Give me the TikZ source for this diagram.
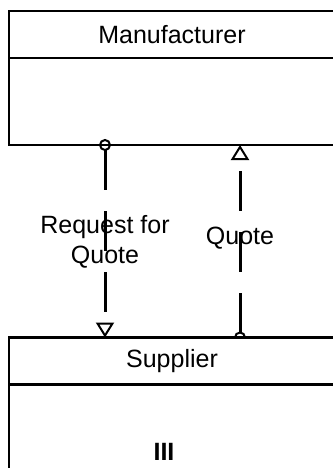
\documentclass[tikz,border=0pt]{standalone}
\usepackage{fontspec}
\setmainfont{Liberation Sans}
\usetikzlibrary{arrows.meta,positioning,backgrounds}
\definecolor{umInk}{HTML}{000000}
\tikzset{
  hdr/.style={draw=umInk, line width=2.8pt, minimum width=326pt, minimum height=47pt, inner sep=0pt, outer sep=0pt, font=\fontsize{25}{30}\selectfont},
  cbody/.style={hdr, minimum height=87pt},
  msg/.style={draw=umInk, line width=3pt, dash pattern=on 40pt off 21pt,
    {Circle[open, length=12pt, width=12pt, line width=2pt]}-{Triangle[open, length=15pt, width=18pt, line width=2pt]}},
  lbl/.style={font=\fontsize{25}{30}\selectfont, align=center, inner sep=0pt, text=umInk},
}
\begin{document}
\begin{tikzpicture}[x=1pt, y=-1pt]
    \useasboundingbox (0,0) rectangle (332,468);
    \node[hdr] (mfr) at (172,34.5) {Manufacturer};
    \node[cbody, below=0pt of mfr] (mfrBody) {};
    \node[hdr, fill=white] (sup) at (172,361) {Supplier};
    \node[cbody, fill=white, minimum height=100pt, below=0pt of sup] (supBody) {};
    \node[lbl, font=\fontsize{25}{30}\selectfont\bfseries] (supOps) at (164,452) {III};
    \begin{scope}[on background layer]
        \draw[msg] ([xshift=-67pt, yshift=6pt]mfrBody.south) -- node[lbl, pos=0.52] (rfqLbl) {Request for\\Quote} ([xshift=-67pt]sup.north);
        \draw[msg] ([xshift=68pt, yshift=-6pt]sup.north) -- node[lbl, pos=0.53] (quoteLbl) {Quote} ([xshift=68pt]mfrBody.south);
    \end{scope}
\end{tikzpicture}
\end{document}
